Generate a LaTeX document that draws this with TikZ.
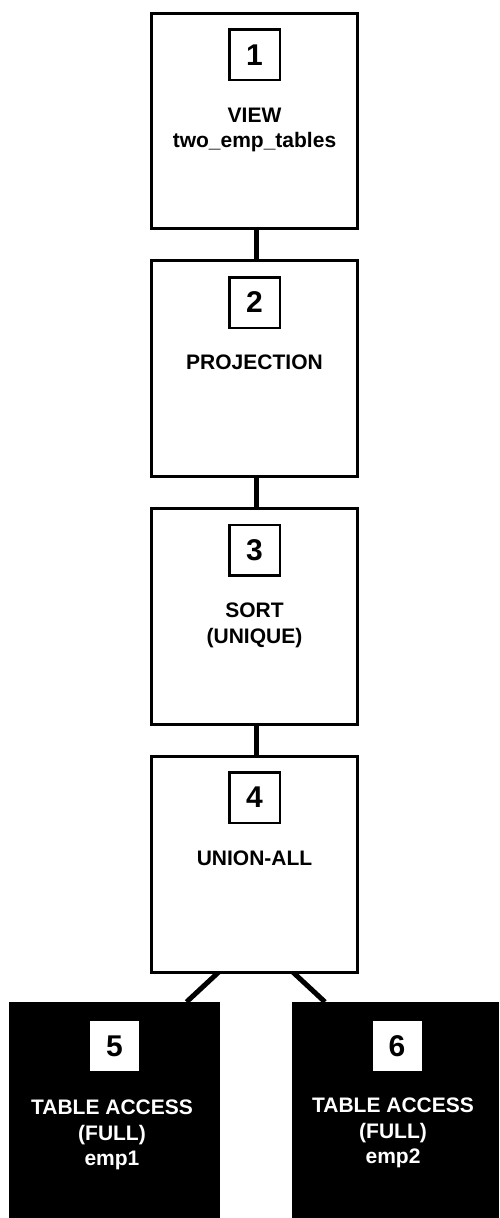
\documentclass[tikz,border=0pt]{standalone}
\usepackage{fontspec}
\setmainfont{Liberation Sans}
\begin{document}
\begin{tikzpicture}[x=1pt,y=-1pt,
  opbox/.style={draw=black,line width=3pt,fill=white,inner sep=0pt,outer sep=0pt,
    minimum width=206pt,minimum height=215.5pt},
  leafbox/.style={fill=black,inner sep=0pt,outer sep=0pt,minimum height=216pt},
  numbox/.style={draw=black,line width=2.5pt,fill=white,inner sep=0pt,outer sep=0pt,
    minimum size=50.5pt,font=\fontsize{30}{36}\selectfont\bfseries},
  leafnum/.style={fill=white,inner sep=0pt,outer sep=0pt,
    minimum width=49pt,minimum height=50pt,font=\fontsize{30}{36}\selectfont\bfseries},
  optext/.style={anchor=north,align=center,inner sep=0pt,
    font=\fontsize{21}{25.5}\selectfont\bfseries},
  link/.style={line width=5pt}]
\useasboundingbox (0,0) rectangle (499,1218);
% boxes
\node[opbox] (b1) at (254.5,120.85) {};
\node[opbox] (b2) at (254.5,368.5) {};
\node[opbox] (b3) at (254.5,616.5) {};
\node[opbox] (b4) at (254.5,864.5) {};
\node[leafbox,minimum width=211pt] (b5) at (114.5,1110) {};
\node[leafbox,minimum width=207pt] (b6) at (395.5,1110) {};
% connectors
\draw[link] ([xshift=1.5pt]b1.south) -- ([xshift=1.5pt]b2.north);
\draw[link] ([xshift=1.5pt]b2.south) -- ([xshift=1.5pt]b3.north);
\draw[link] ([xshift=1.5pt]b3.south) -- ([xshift=1.5pt]b4.north);
\draw[link] ([xshift=-36pt]b4.south) -- ([xshift=72pt]b5.north);
\draw[link] ([xshift=38.5pt]b4.south) -- ([xshift=-70.5pt]b6.north);
% redraw boxes over connector ends
\node[opbox] at (b1) {};
\node[opbox] at (b2) {};
\node[opbox] at (b3) {};
\node[opbox] at (b4) {};
\node[leafbox,minimum width=211pt] at (b5) {};
\node[leafbox,minimum width=207pt] at (b6) {};
% numbers
\node[numbox] (n1) at (254.5,54.7) {1};
\node[numbox] (n2) at (254.5,302.5) {2};
\node[numbox] (n3) at (254.5,550) {3};
\node[numbox] (n4) at (254.5,797.5) {4};
\node[leafnum] (n5) at (114.5,1046) {5};
\node[leafnum] (n6) at (397,1046) {6};
% texts
\node[optext] (t1) at (254.5,107.7) {VIEW\\two\_emp\_tables};
\node[optext] (t2) at (254.5,355) {PROJECTION};
\node[optext] (t3) at (254.5,603) {SORT\\(UNIQUE)};
\node[optext] (t4) at (254.5,851) {UNION-ALL};
\node[optext,text=white] (t5) at (112,1100) {TABLE ACCESS\\(FULL)\\emp1};
\node[optext,text=white] (t6) at (393,1097.7) {TABLE ACCESS\\(FULL)\\emp2};
\end{tikzpicture}
\end{document}
